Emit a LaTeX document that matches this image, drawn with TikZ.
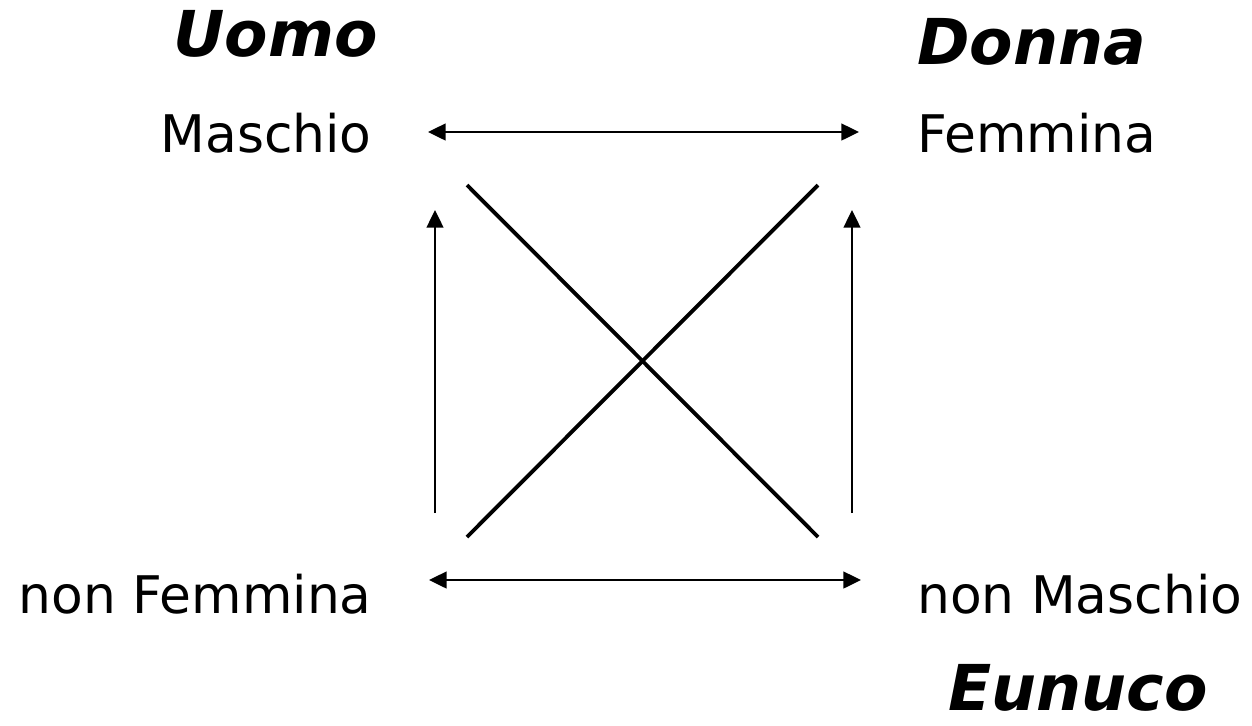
\documentclass[tikz,border=0pt]{standalone}
\usepackage{fontspec}
\setmainfont{DejaVu Sans}
\usetikzlibrary{arrows.meta}

\begin{document}
\begin{tikzpicture}[
    x=0.02cm, y=-0.02cm,
    tip/.tip={Triangle[length=10pt, width=9.5pt]},
    term/.style={inner sep=0pt, font=\fontsize{29.5}{32}\selectfont},
    role/.style={inner sep=0pt, font=\fontsize{36}{40}\selectfont\bfseries\itshape},
    relarrow/.style={tip-tip, line width=1.2pt, black},
    uparrow/.style={-tip, line width=1.2pt, black},
    cross/.style={line width=2.2pt, black},
]

    \useasboundingbox (0,0) rectangle (1252,725);

    % ===== roles =====
    \node[role, anchor=base east] (uomo) at (378,56) {Uomo};
    \node[role, anchor=base west] (donna) at (917,64) {Donna};
    \node[role, anchor=base west] (eunuco) at (948,710) {Eunuco};

    % ===== terms =====
    \node[term, anchor=base east] (maschio) at (372,152) {Maschio};
    \node[term, anchor=base west] (femmina) at (917,152) {Femmina};
    \node[term, anchor=base east] (nonfemmina) at (372,613) {non Femmina};
    \node[term, anchor=base west] (nonmaschio) at (917,613) {non Maschio};

    % ===== square corners =====
    \coordinate (topL) at (428,132);
    \coordinate (topR) at (859,132);
    \coordinate (botL) at (429,580);
    \coordinate (botR) at (861,580);
    \coordinate (leftB) at (435,513);
    \coordinate (leftT) at (435,210);
    \coordinate (rightB) at (852,513);
    \coordinate (rightT) at (852,210);
    \coordinate (crossTL) at (467,185);
    \coordinate (crossTR) at (818,185);
    \coordinate (crossBL) at (467,537);
    \coordinate (crossBR) at (818,537);

    % ===== relations =====
    \draw[relarrow] (topL) -- (topR);
    \draw[relarrow] (botL) -- (botR);
    \draw[uparrow] (leftB) -- (leftT);
    \draw[uparrow] (rightB) -- (rightT);
    \draw[cross] (crossTL) -- (crossBR);
    \draw[cross] (crossBL) -- (crossTR);

\end{tikzpicture}
\end{document}
